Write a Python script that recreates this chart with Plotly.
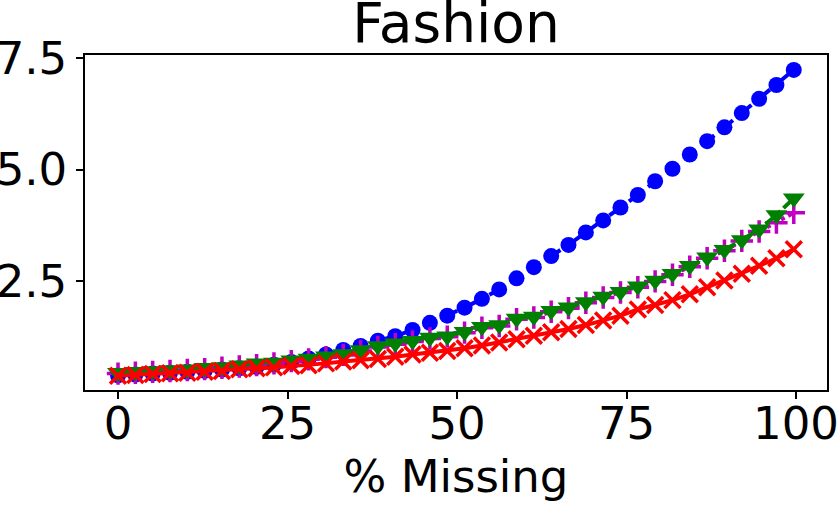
import plotly.graph_objects as go

x_missing = [0, 2.56, 5.11, 7.67, 10.22, 12.78, 15.33, 17.89, 20.44, 23.0,
             25.56, 28.11, 30.67, 33.22, 35.78, 38.33, 40.89, 43.44, 46.0, 48.56,
             51.11, 53.67, 56.22, 58.78, 61.33, 63.89, 66.44, 69.0, 71.56, 74.11,
             76.67, 79.22, 81.78, 84.33, 86.89, 89.44, 92.0, 94.56, 97.11, 99.67]

blue_vals = [0.38, 0.40, 0.42, 0.44, 0.46, 0.48, 0.51, 0.54, 0.57, 0.62,
             0.68, 0.76, 0.85, 0.95, 1.04, 1.16, 1.26, 1.40, 1.56, 1.72,
             1.90, 2.10, 2.31, 2.56, 2.81, 3.06, 3.31, 3.59, 3.86, 4.15,
             4.43, 4.74, 5.02, 5.34, 5.64, 5.95, 6.27, 6.59, 6.90, 7.24]

magenta_vals = [0.42, 0.44, 0.46, 0.48, 0.50, 0.52, 0.55, 0.58, 0.61, 0.65,
                0.70, 0.74, 0.79, 0.84, 0.93, 1.02, 1.08, 1.14, 1.21, 1.25,
                1.34, 1.45, 1.49, 1.64, 1.68, 1.81, 1.89, 2.01, 2.13, 2.24,
                2.36, 2.49, 2.64, 2.82, 3.01, 3.18, 3.40, 3.61, 3.81, 4.03]

green_vals = [0.44, 0.46, 0.48, 0.50, 0.52, 0.55, 0.57, 0.61, 0.65, 0.67,
              0.72, 0.76, 0.81, 0.86, 0.95, 1.04, 1.10, 1.16, 1.23, 1.26,
              1.36, 1.47, 1.51, 1.66, 1.70, 1.83, 1.91, 2.03, 2.15, 2.26,
              2.38, 2.51, 2.66, 2.84, 3.03, 3.20, 3.42, 3.66, 3.98, 4.36]

red_vals = [0.37, 0.39, 0.41, 0.43, 0.44, 0.46, 0.48, 0.52, 0.54, 0.56,
            0.59, 0.61, 0.65, 0.69, 0.72, 0.75, 0.80, 0.85, 0.89, 0.93,
            0.99, 1.05, 1.12, 1.19, 1.27, 1.35, 1.42, 1.51, 1.61, 1.72,
            1.86, 1.96, 2.07, 2.20, 2.36, 2.51, 2.66, 2.84, 3.01, 3.21]

x_ticks = [0, 25, 50, 75, 100]
y_ticks = [2.5, 5.0, 7.5]
y_tick_text = ["2.5", "5.0", "7.5"]

FONT = "DejaVu Sans"

fig = go.Figure()
fig.add_trace(go.Scatter(x=x_missing, y=blue_vals, mode="lines+markers",
                         line=dict(color="#0000ff", width=4, dash="dash"),
                         marker=dict(symbol="circle", size=16, color="#0000ff")))
fig.add_trace(go.Scatter(x=x_missing, y=magenta_vals, mode="lines+markers",
                         line=dict(color="#bf00bf", width=4, dash="dot"),
                         marker=dict(symbol="cross-thin", size=16,
                                     line=dict(color="#bf00bf", width=3.5))))
fig.add_trace(go.Scatter(x=x_missing, y=green_vals, mode="lines+markers",
                         line=dict(color="#008000", width=4, dash="dashdot"),
                         marker=dict(symbol="triangle-down", size=19, color="#008000")))
fig.add_trace(go.Scatter(x=x_missing, y=red_vals, mode="lines+markers",
                         line=dict(color="#ff0000", width=4),
                         marker=dict(symbol="x-thin", size=16,
                                     line=dict(color="#ff0000", width=3.5))))

fig.update_layout(
    width=838, height=505,
    margin=dict(l=85, r=11, t=55, b=115),
    paper_bgcolor="white", plot_bgcolor="white",
    showlegend=False,
    font=dict(family=FONT, color="black", size=45),
    title=dict(text="Fashion", x=0.5, xref="paper", xanchor="center",
               y=1 - 23 / 505, yref="container", yanchor="middle",
               font=dict(family=FONT, size=55, color="black")),
)
fig.update_xaxes(range=[-4.87, 104.57], tickvals=x_ticks,
                 showgrid=False, zeroline=False, automargin=False,
                 showline=True, linecolor="black", linewidth=1.5, mirror=True,
                 ticks="outside", ticklen=7, tickwidth=1.5, tickcolor="black",
                 ticklabeloverflow="allow", ticklabelstandoff=-14,
                 tickfont=dict(family=FONT, size=45),
                 title=dict(text="% Missing", font=dict(family=FONT, size=45), standoff=4))
fig.update_yaxes(range=[0.052, 7.574], tickvals=y_ticks, ticktext=y_tick_text,
                 showgrid=False, zeroline=False, automargin=False,
                 showline=True, linecolor="black", linewidth=1.5, mirror=True,
                 ticks="outside", ticklen=7, tickwidth=1.5, tickcolor="black",
                 ticklabeloverflow="allow", ticklabelstandoff=0,
                 tickfont=dict(family=FONT, size=45))

fig.write_html("out.html")
